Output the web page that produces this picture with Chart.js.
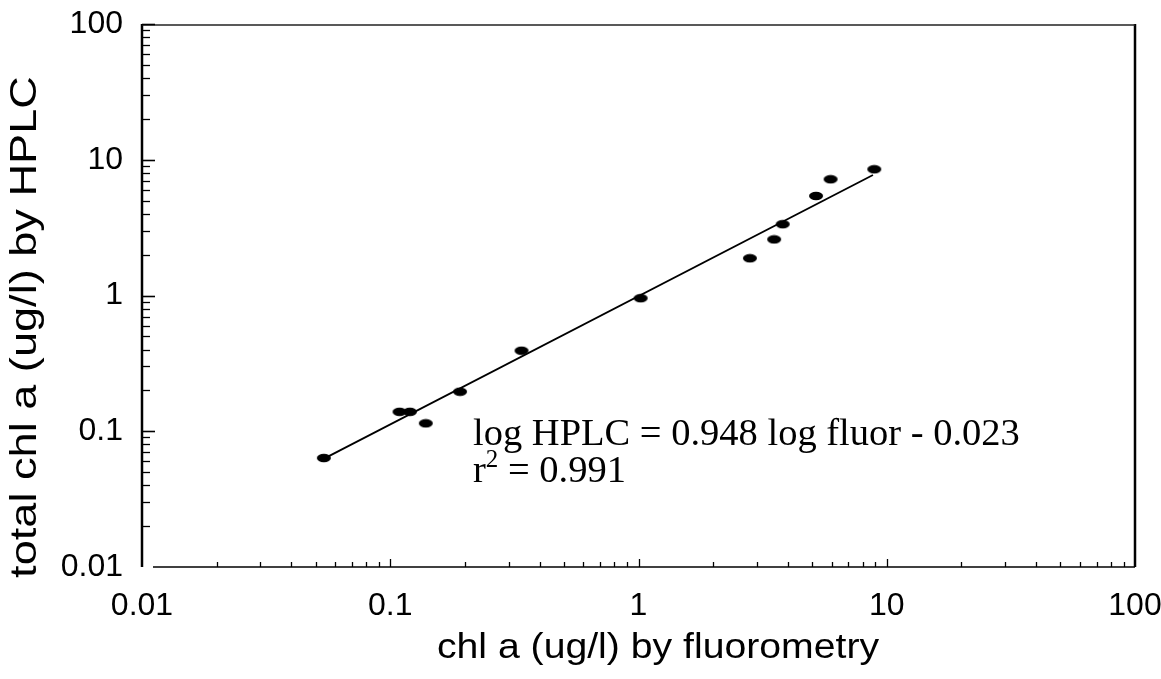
<!DOCTYPE html>
<html>
<head>
<meta charset="utf-8">
<script src="https://cdn.jsdelivr.net/npm/chart.js@4.4.1/dist/chart.umd.min.js"></script>
<style>
  html, body { margin: 0; padding: 0; background: #ffffff; }
  #wrap { width: 1161px; height: 679px; position: relative; }
</style>
</head>
<body>
<div id="wrap"><canvas id="c" width="1161" height="679"></canvas></div>
<script>
// ---- data ----
const fluorX = [0.054, 0.109, 0.120, 0.139, 0.191, 0.338, 1.02, 2.81, 3.52, 3.81, 5.19, 5.94, 8.91];
const hplcY  = [0.0635, 0.139, 0.139, 0.1144, 0.1955, 0.392, 0.955, 1.88, 2.59, 3.35, 5.41, 7.18, 8.51];
const fitLineX = [0.0556, 8.80];
const fitLineY = [0.0645, 7.72];
const decadeValues = [0.01, 0.1, 1, 10, 100];
const decadeLabels = ['0.01', '0.1', '1', '10', '100'];
const minorMultipliers = [1, 2, 3, 4, 5, 6, 7, 8, 9];
const equationText = 'log HPLC = 0.948 log fluor - 0.023';
const rSquaredText = ' = 0.991';
const xTitle = 'chl a (ug/l) by fluorometry';
const yTitle = 'total chl a (ug/l) by HPLC';

const SANS = '"Liberation Sans", Arial, Helvetica, sans-serif';
const SERIF = '"Liberation Serif", "Times New Roman", serif';

// marker: flattened black dot
const marker = document.createElement('canvas');
marker.width = 16; marker.height = 10;
(function () {
  const g = marker.getContext('2d');
  g.fillStyle = '#000';
  g.beginPath();
  g.ellipse(8, 5, 7, 4.2, 0, 0, Math.PI * 2);
  g.fill();
})();

function logTicks() {
  const out = [];
  for (let d = 0; d < decadeValues.length - 1; d++) {
    for (const m of minorMultipliers) {
      out.push({ value: +(decadeValues[d] * m).toPrecision(6), major: m === 1 });
    }
  }
  out.push({ value: decadeValues[decadeValues.length - 1], major: true });
  return out;
}
function labelFor(v) {
  for (let i = 0; i < decadeValues.length; i++) {
    if (Math.abs(v - decadeValues[i]) < decadeValues[i] * 1e-6) return decadeLabels[i];
  }
  return '';
}

const framePlugin = {
  id: 'frame',
  afterDatasetsDraw(chart) {
    const { ctx, chartArea: a } = chart;
    const xs = chart.scales.x, ys = chart.scales.y;
    ctx.save();
    ctx.strokeStyle = '#000';
    ctx.lineCap = 'butt';
    // left axis
    ctx.lineWidth = 2.5;
    ctx.beginPath(); ctx.moveTo(a.left, a.top); ctx.lineTo(a.left, a.bottom); ctx.stroke();
    // right border
    ctx.beginPath(); ctx.moveTo(a.right, a.top); ctx.lineTo(a.right, a.bottom); ctx.stroke();
    // bottom axis (starts a little right of the y axis)
    ctx.lineWidth = 1.6;
    ctx.beginPath(); ctx.moveTo(a.left + 11, a.bottom); ctx.lineTo(a.right, a.bottom); ctx.stroke();
    // top border
    ctx.strokeStyle = '#222';
    ctx.lineWidth = 1.4;
    ctx.beginPath(); ctx.moveTo(a.left, a.top + 1); ctx.lineTo(a.right, a.top + 1); ctx.stroke();
    ctx.strokeStyle = '#000';
    // inside ticks on x axis
    ctx.lineWidth = 1.3;
    xs.ticks.forEach(t => {
      if (t.value <= decadeValues[0] || t.value >= decadeValues[decadeValues.length - 1]) return;
      const px = Math.round(xs.getPixelForValue(t.value)) + 0.5;
      const len = t.major ? 8 : 5;
      ctx.beginPath(); ctx.moveTo(px, a.bottom); ctx.lineTo(px, a.bottom - len); ctx.stroke();
    });
    // inside ticks on y axis
    ys.ticks.forEach(t => {
      if (t.value <= decadeValues[0]) return;
      const py = Math.round(ys.getPixelForValue(t.value)) + 0.5;
      const len = t.major ? 13 : 8;
      ctx.lineWidth = t.major ? 1.6 : 1.3;
      ctx.beginPath(); ctx.moveTo(a.left, py); ctx.lineTo(a.left + len, py); ctx.stroke();
    });

    ctx.fillStyle = '#000';
    // axis titles (slightly wide lettering, like the original)
    ctx.font = '35px ' + SANS;
    ctx.textAlign = 'center';
    ctx.textBaseline = 'alphabetic';
    ctx.save();
    ctx.translate(658, 658);
    ctx.scale(1.12, 1);
    ctx.fillText(xTitle, 0, 0);
    ctx.restore();

    ctx.save();
    ctx.font = '37px ' + SANS;
    ctx.translate(36, 327);
    ctx.rotate(-Math.PI / 2);
    ctx.scale(1.22, 1);
    ctx.fillText(yTitle, 0, 0);
    ctx.restore();

    // regression annotation
    ctx.textAlign = 'left';
    ctx.font = '38.5px ' + SERIF;
    const tx = 473, ty1 = 445, ty2 = 482;
    ctx.fillText(equationText, tx, ty1);
    ctx.fillText('r', tx, ty2);
    const rw = ctx.measureText('r').width;
    ctx.font = '25px ' + SERIF;
    ctx.fillText('2', tx + rw, ty2 - 15);
    const sw = ctx.measureText('2').width;
    ctx.font = '38.5px ' + SERIF;
    ctx.fillText(rSquaredText, tx + rw + sw, ty2);
    ctx.restore();
  }
};

const fitPoints = fitLineX.map((x, i) => ({ x, y: fitLineY[i] }));
const dataPoints = fluorX.map((x, i) => ({ x, y: hplcY[i] }));

new Chart(document.getElementById('c'), {
  type: 'scatter',
  data: {
    datasets: [
      {
        label: 'fit',
        data: fitPoints,
        showLine: true,
        borderColor: '#000',
        borderWidth: 1.8,
        pointRadius: 0,
        fill: false
      },
      {
        label: 'samples',
        data: dataPoints,
        pointStyle: marker,
        pointRadius: 6,
        backgroundColor: '#000',
        borderColor: '#000'
      }
    ]
  },
  options: {
    responsive: false,
    animation: false,
    devicePixelRatio: 1,
    layout: { padding: { top: 24, right: 26, left: 0, bottom: 0 } },
    plugins: { legend: { display: false }, tooltip: { enabled: false } },
    scales: {
      x: {
        type: 'logarithmic',
        position: 'bottom',
        min: 0.01, max: 100,
        afterBuildTicks: s => { s.ticks = logTicks(); },
        afterFit: s => { s.height = 112; s.paddingLeft = 0; s.paddingRight = 0; },
        grid: { display: false, drawTicks: false },
        border: { display: false },
        ticks: {
          autoSkip: false, maxRotation: 0, minRotation: 0,
          padding: 20, color: '#000',
          font: { family: SANS, size: 32 },
          callback: v => labelFor(v)
        },
        title: { display: false, text: xTitle }
      },
      y: {
        type: 'logarithmic',
        position: 'left',
        min: 0.01, max: 100,
        afterBuildTicks: s => { s.ticks = logTicks(); },
        afterFit: s => { s.width = 142; s.paddingTop = 0; s.paddingBottom = 0; },
        grid: { display: false, drawTicks: false },
        border: { display: false },
        ticks: {
          autoSkip: false,
          padding: 19, color: '#000',
          font: { family: SANS, size: 32 },
          callback: v => labelFor(v)
        },
        title: { display: false, text: yTitle }
      }
    }
  },
  plugins: [framePlugin]
});
</script>
</body>
</html>
